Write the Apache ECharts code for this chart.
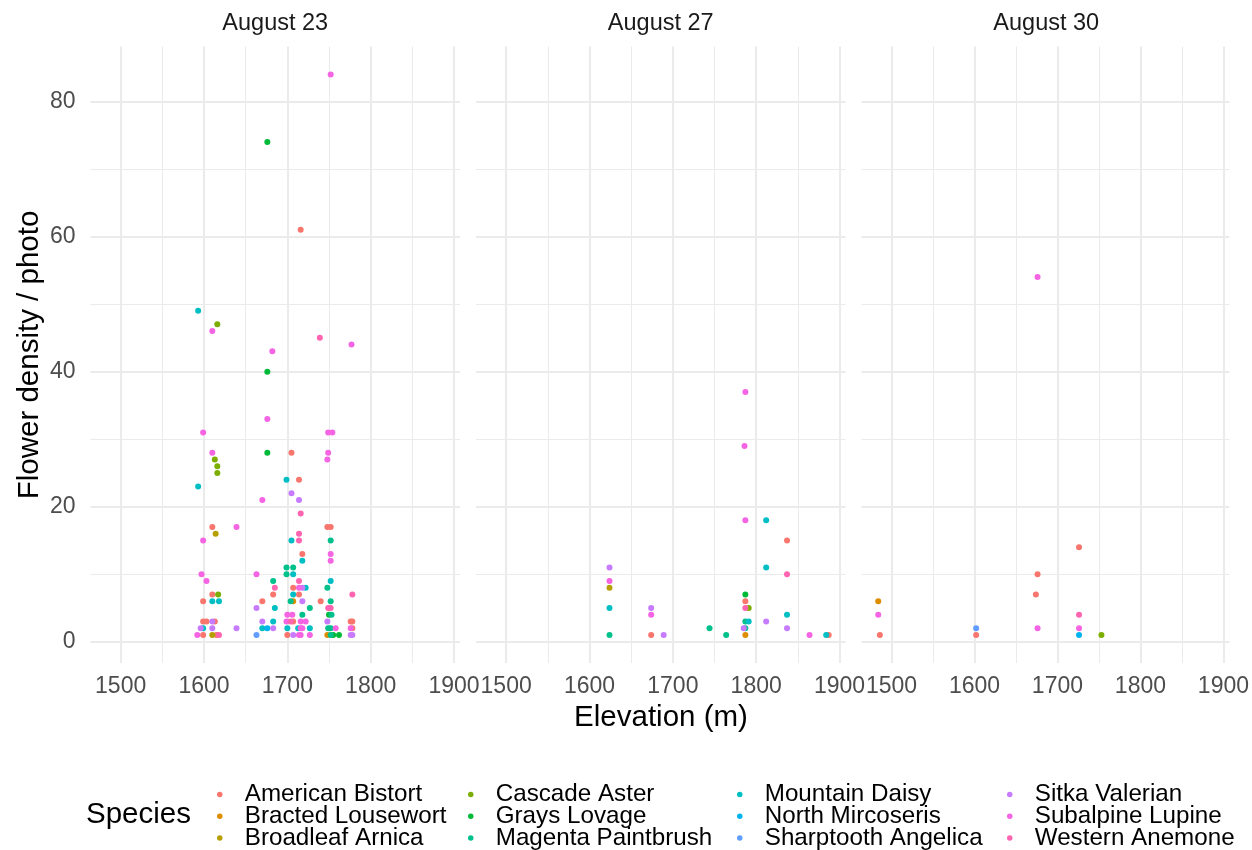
<!DOCTYPE html>
<html><head><meta charset="utf-8">
<script src="https://cdn.jsdelivr.net/npm/echarts@6/dist/echarts.min.js"></script>
<style>html,body{margin:0;padding:0;background:#fff}#c{width:1252px;height:850px}</style>
</head><body><div id="c"></div>
<script>
const species = ['American Bistort','Bracted Lousewort','Broadleaf Arnica','Cascade Aster','Grays Lovage','Magenta Paintbrush','Mountain Daisy','North Mircoseris','Sharptooth Angelica','Sitka Valerian','Subalpine Lupine','Western Anemone'];
const colors = ['#F8766D','#DE8C00','#B79F00','#7CAE00','#00BA38','#00C08B','#00BFC4','#00B4F0','#619CFF','#C77CFF','#F564E3','#FF64B0'];
const panels = ['August 23','August 27','August 30'];
const xTicks = [1500,1600,1700,1800,1900];
const xMinor = [1550,1650,1750,1850];
const yTicks = [0,20,40,60,80];
const yMinor = [10,30,50,70];
// [speciesIndex, elevation (m), flower density / photo]
const aug23 = [
 [0,1716,61],[0,1705,28],[0,1714,24],[0,1610,17],[0,1748,17],[0,1752,17],[0,1718,13],[0,1610,7],[0,1683,7],[0,1714,7],[0,1707,8],[0,1599,6],[0,1670,6],[0,1740,6],[0,1599,3],[0,1603,3],[0,1613,3],[0,1707,3],[0,1776,3],[0,1778,3],[0,1778,2],[0,1599,1],[0,1615,1],[0,1700,1],
 [1,1707,6],[1,1748,1],
 [2,1614,16],[2,1610,1],
 [3,1616,47],[3,1613,27],[3,1616,26],[3,1616,25],[3,1617,7],
 [4,1676,74],[4,1676,40],[4,1676,28],[4,1750,4],[4,1755,1],[4,1762,1],
 [5,1752,15],[5,1699,11],[5,1707,11],[5,1699,10],[5,1683,9],[5,1748,8],[5,1704,6],[5,1752,6],[5,1727,5],[5,1753,4],[5,1718,4],[5,1749,2],[5,1752,2],[5,1752,1],
 [6,1593,49],[6,1593,23],[6,1699,24],[6,1705,15],[6,1718,12],[6,1707,10],[6,1752,9],[6,1722,8],[6,1707,7],[6,1610,6],[6,1618,6],[6,1685,5],[6,1683,3],[6,1599,2],[6,1670,2],[6,1700,2],[6,1713,2],[6,1727,2],
 [7,1676,2],
 [8,1663,1],
 [9,1705,22],[9,1714,21],[9,1718,8],[9,1718,6],[9,1663,5],[9,1610,3],[9,1670,3],[9,1748,3],[9,1596,2],[9,1610,2],[9,1639,2],[9,1683,2],[9,1707,1],[9,1776,1],[9,1778,1],
 [10,1752,84],[10,1610,46],[10,1777,44],[10,1682,43],[10,1676,33],[10,1599,31],[10,1749,31],[10,1754,31],[10,1610,28],[10,1749,28],[10,1748,27],[10,1670,21],[10,1639,17],[10,1599,15],[10,1752,13],[10,1752,12],[10,1597,10],[10,1663,10],[10,1603,9],[10,1714,8],[10,1700,4],[10,1706,4],[10,1699,3],[10,1716,3],[10,1722,3],[10,1716,2],[10,1718,2],[10,1758,2],[10,1776,2],[10,1592,1],[10,1714,1],[10,1716,1],[10,1727,1],
 [11,1739,45],[11,1716,19],[11,1714,16],[11,1714,15],[11,1714,9],[11,1685,8],[11,1778,7],[11,1749,5],[11,1752,5],[11,1618,1],[11,1704,3]
];
const aug27 = [
 [0,1837,15],[0,1787,6],[0,1674,1],[0,1887,1],
 [1,1787,1],
 [2,1624,8],
 [3,1791,5],
 [4,1787,7],
 [5,1624,1],[5,1744,2],[5,1764,1],[5,1787,3],[5,1787,2],
 [6,1812,18],[6,1812,11],[6,1624,5],[6,1791,3],[6,1837,4],[6,1884,1],
 [9,1624,11],[9,1674,5],[9,1689,1],[9,1785,2],[9,1812,3],[9,1837,2],
 [10,1787,37],[10,1786,29],[10,1787,18],[10,1624,9],[10,1674,4],[10,1864,1],
 [11,1837,10],[11,1787,5]
];
const aug30 = [
 [0,1726,14],[0,1676,10],[0,1674,7],[0,1486,1],[0,1602,1],
 [1,1484,6],
 [3,1753,1],
 [7,1726,1],
 [8,1602,2],
 [10,1676,54],[10,1484,4],[10,1676,2],[10,1726,2],
 [11,1726,4]
];

const FONT = '"Liberation Sans", Arial, Helvetica, sans-serif';
const panelData = [aug23, aug27, aug30];
const all = aug23.concat(aug27, aug30);
const xs = all.map(p => p[1]), ys = all.map(p => p[2]);
const xmin = Math.min(...xs), xmax = Math.max(...xs), ymin = Math.min(...ys), ymax = Math.max(...ys);
const xLo = xmin - 0.05 * (xmax - xmin), xHi = xmax + 0.05 * (xmax - xmin);
const yLo = ymin - 0.05 * (ymax - ymin), yHi = ymax + 0.05 * (ymax - ymin);

const gridLefts = [90.5, 476, 861.5];
const gridW = 369.5;
const gridTop = 46.5, gridH = 616.5;

const grids = [], xAxes = [], yAxes = [], series = [], titles = [];
const majorStyle = {color: '#EBEBEB', width: 2.1, type: 'solid'};
const minorStyle = {color: '#EBEBEB', width: 1.05, type: 'solid'};

panelData.forEach((pts, g) => {
  grids.push({left: gridLefts[g], top: gridTop, width: gridW, height: gridH, containLabel: false});
  xAxes.push({type: 'value', gridIndex: g, min: xLo, max: xHi,
    axisLine: {show: false}, axisTick: {show: false}, splitLine: {show: false},
    axisLabel: {customValues: xTicks, formatter: v => String(v), margin: 12, color: '#4D4D4D', fontSize: 23, lineHeight: 23, fontFamily: FONT, hideOverlap: false, showMinLabel: true, showMaxLabel: true}});
  yAxes.push({type: 'value', gridIndex: g, min: yLo, max: yHi,
    axisLine: {show: false}, axisTick: {show: false}, splitLine: {show: false},
    axisLabel: {show: g === 0, customValues: yTicks, formatter: v => String(v), margin: 15, color: '#4D4D4D', fontSize: 23, fontFamily: FONT}});
  titles.push({text: panels[g], left: gridLefts[g] + gridW / 2, top: 12, textAlign: 'center', padding: 0,
    textStyle: {fontSize: 23.5, lineHeight: 24, fontWeight: 'normal', color: '#1A1A1A', fontFamily: FONT}});
  const ml = [];
  xMinor.forEach(v => ml.push({xAxis: v, lineStyle: minorStyle}));
  yMinor.forEach(v => ml.push({yAxis: v, lineStyle: minorStyle}));
  xTicks.forEach(v => ml.push({xAxis: v, lineStyle: majorStyle}));
  yTicks.forEach(v => ml.push({yAxis: v, lineStyle: majorStyle}));
  series.push({type: 'scatter', xAxisIndex: g, yAxisIndex: g, data: [], silent: true, z: 1,
    markLine: {silent: true, z: 1, symbol: ['none', 'none'], label: {show: false}, animation: false, data: ml}});
  species.forEach((sp, s) => {
    const d = pts.filter(p => p[0] === s).map(p => [p[1], p[2]]);
    series.push({type: 'scatter', name: sp, xAxisIndex: g, yAxisIndex: g, data: d,
      symbol: 'circle', symbolSize: 6, itemStyle: {color: colors[s], opacity: 1}, z: 3, silent: true});
  });
});

const dotX = [220, 471, 740, 1010];
const legends = dotX.map((x, i) => ({
  data: species.slice(i * 3, i * 3 + 3), orient: 'vertical', left: x - 3, top: 782.5, height: 120, width: 260,
  itemWidth: 40, itemHeight: 5.5, itemGap: -2.2, icon: 'circle', padding: 0, selectedMode: false,
  textStyle: {fontSize: 24.2, lineHeight: 22, color: '#000', fontFamily: FONT}
}));

const chart = echarts.init(document.getElementById('c'), null, {renderer: 'canvas'});
chart.setOption({
  animation: false,
  backgroundColor: '#fff',
  title: titles,
  grid: grids,
  xAxis: xAxes,
  yAxis: yAxes,
  legend: legends,
  series: series,
  graphic: [
    {type: 'text', style: {text: 'Elevation (m)', x: 661, y: 718, textAlign: 'center', textVerticalAlign: 'middle', font: '29.5px ' + FONT, fill: '#000'}, silent: true},
    {type: 'text', x: 30, y: 355, rotation: Math.PI / 2, style: {text: 'Flower density / photo', x: 0, y: 0, textAlign: 'center', textVerticalAlign: 'middle', font: '29.5px ' + FONT, fill: '#000'}, silent: true},
    {type: 'text', style: {text: 'Species', x: 86, y: 815, textAlign: 'left', textVerticalAlign: 'middle', font: '29.5px ' + FONT, fill: '#000'}, silent: true}
  ]
});
</script></body></html>
